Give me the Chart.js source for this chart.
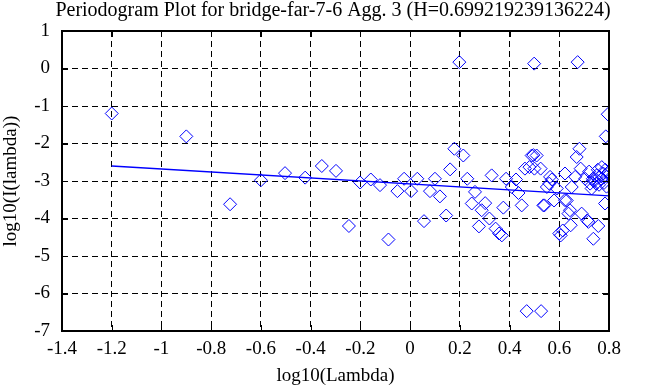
<!DOCTYPE html>
<html>
<head>
<meta charset="utf-8">
<script src="https://cdn.jsdelivr.net/npm/chart.js@4/dist/chart.umd.min.js"></script>
<style>
    html, body { margin: 0; padding: 0; background: #ffffff; }
    #wrap { width: 663px; height: 387px; }
</style>
</head>
<body>
<div id="wrap"><canvas id="chart" width="663" height="387"></canvas></div>
<script>
// Periodogram points: log10(Lambda) vs log10(I(lambda))
const logLambda = [
    -1.2, -0.9, -0.724, -0.6, -0.503, -0.422, -0.355, -0.298,
    -0.246, -0.201, -0.158, -0.121, -0.087, -0.051, -0.024, 0.004,
    0.029, 0.056, 0.08, 0.1, 0.12, 0.145, 0.161, 0.178,
    0.198, 0.214, 0.23, 0.248, 0.261, 0.277, 0.288, 0.302,
    0.319, 0.328, 0.344, 0.358, 0.369, 0.375, 0.386, 0.409,
    0.426, 0.436, 0.449, 0.462, 0.469, 0.48, 0.489, 0.496,
    0.499, 0.5, 0.509, 0.525, 0.527, 0.536, 0.54, 0.55,
    0.56, 0.563, 0.57, 0.579, 0.59, 0.6, 0.606, 0.614,
    0.623, 0.623, 0.63, 0.637, 0.643, 0.646, 0.65, 0.664,
    0.67, 0.674, 0.681, 0.686, 0.69, 0.704, 0.713, 0.717,
    0.72, 0.724, 0.73, 0.735, 0.737, 0.74, 0.748, 0.75,
    0.755, 0.757, 0.76, 0.761, 0.77, 0.771, 0.777, 0.78,
    0.784, 0.785, 0.787, 0.79, 0.791, 0.795, 0.798
];
const logPower = [
    -1.2, -1.81, -3.62, -2.98, -2.79, -2.91, -2.6, -2.73,
    -4.2, -3.04, -2.96, -3.11, -4.56, -3.27, -2.94, -3.27,
    -2.94, -4.07, -3.27, -2.94, -3.41, -3.92, -2.69, -2.14,
    0.17, -2.32, -2.94, -3.6, -3.29, -4.21, -3.78, -3.59,
    -4.0, -2.85, -4.27, -4.4, -4.45, -3.71, -2.94, -3.16,
    -2.96, -3.32, -3.65, -2.67, -6.47, -2.63, -2.32, -2.31,
    0.13, -2.67, -2.32, -2.67, -6.47, -3.65, -3.65, -3.16,
    -3.07, -2.89, -2.96, -3.52, -3.2, -4.4, -4.45, -4.32,
    -2.8, -3.51, -3.52, -3.87, -3.78, -4.18, -3.16, -2.89,
    -2.36, 0.17, -2.14, -2.67, -3.87, -2.94, -4.05, -4.09,
    -2.75, -3.07, -3.2, -2.94, -4.54, -3.0, -3.07, -2.85,
    -2.7, -4.2, -3.1, -2.89, -2.95, -2.63, -2.8, -3.05,
    -3.6, -2.7, -1.81, -3.15, -2.89, -1.22, -2.76
];
// least-squares fit line endpoints
const fitX = [-1.2, 0.8];
const fitY = [-2.6, -3.396];

// axis ticks
const xTicks = [-1.4, -1.2, -1, -0.8, -0.6, -0.4, -0.2, 0, 0.2, 0.4, 0.6, 0.8];
const yTicks = [-7, -6, -5, -4, -3, -2, -1, 0, 1];

const titleText = 'Periodogram Plot for bridge-far-7-6 Agg. 3 (H=0.699219239136224)';
const serif = '"Liberation Serif", "DejaVu Serif", serif';

// frame, inward tick marks and title
const framePlugin = {
    id: 'frame',
    afterDatasetsDraw(chart) {
        const { ctx, chartArea: a, scales } = chart;
        ctx.save();
        ctx.strokeStyle = '#000000';
        ctx.lineWidth = 1;
        ctx.beginPath();
        xTicks.forEach(v => {
            const px = Math.round(scales.x.getPixelForValue(v)) + 0.5;
            ctx.moveTo(px, a.bottom); ctx.lineTo(px, a.bottom - 6);
            ctx.moveTo(px, a.top); ctx.lineTo(px, a.top + 6);
        });
        yTicks.forEach(v => {
            const py = Math.round(scales.y.getPixelForValue(v)) + 0.5;
            ctx.moveTo(a.left, py); ctx.lineTo(a.left + 6, py);
            ctx.moveTo(a.right, py); ctx.lineTo(a.right - 6, py);
        });
        ctx.stroke();
        ctx.lineWidth = 2;
        ctx.strokeRect(a.left, a.top, a.right - a.left, a.bottom - a.top);
        ctx.fillStyle = '#000000';
        ctx.font = '20px ' + serif;
        ctx.textAlign = 'center';
        ctx.textBaseline = 'middle';
        ctx.fillText(titleText, 333, 11);
        ctx.restore();
    }
};

const points = logLambda.map((x, i) => ({ x: x, y: logPower[i] }));
const fitLine = fitX.map((x, i) => ({ x: x, y: fitY[i] }));

new Chart(document.getElementById('chart'), {
    type: 'scatter',
    data: {
        datasets: [{
            data: points,
            pointStyle: 'rectRot',
            pointRadius: 6.5,
            pointBorderWidth: 1,
            borderColor: '#0000ff',
            backgroundColor: 'rgba(0,0,0,0)',
            showLine: false
        }, {
            type: 'line',
            data: fitLine,
            borderColor: '#0000ff',
            borderWidth: 1.3,
            pointRadius: 0,
            fill: false,
            tension: 0
        }]
    },
    options: {
        responsive: false,
        animation: false,
        devicePixelRatio: 1,
        layout: {
            padding: { top: 31, right: 54, left: 0, bottom: 0 }
        },
        plugins: {
            legend: { display: false },
            tooltip: { enabled: false }
        },
        scales: {
            x: {
                type: 'linear',
                min: -1.4,
                max: 0.8,
                afterBuildTicks: scale => { scale.ticks = xTicks.map(v => ({ value: v })); },
                afterFit: scale => { scale.height = 56; },
                border: { display: false, dash: [6, 4] },
                grid: {
                    color: '#000000',
                    lineWidth: 1,
                    drawTicks: false
                },
                ticks: {
                    color: '#000000',
                    padding: 7,
                    font: { family: serif, size: 19 },
                    callback: v => String(Math.round(v * 10) / 10)
                },
                title: {
                    display: true,
                    text: 'log10(Lambda)',
                    color: '#000000',
                    font: { family: serif, size: 19 },
                    padding: { top: 1, bottom: 0 }
                }
            },
            y: {
                type: 'linear',
                min: -7,
                max: 1,
                afterBuildTicks: scale => { scale.ticks = yTicks.map(v => ({ value: v })); },
                afterFit: scale => { scale.width = 62; },
                border: { display: false, dash: [6, 4] },
                grid: {
                    color: '#000000',
                    lineWidth: 1,
                    drawTicks: false
                },
                ticks: {
                    color: '#000000',
                    padding: 12,
                    font: { family: serif, size: 19 }
                },
                title: {
                    display: true,
                    text: 'log10(I(lambda))',
                    color: '#000000',
                    font: { family: serif, size: 19 },
                    padding: { top: 0, bottom: 0 }
                }
            }
        }
    },
    plugins: [framePlugin]
});
</script>
</body>
</html>
